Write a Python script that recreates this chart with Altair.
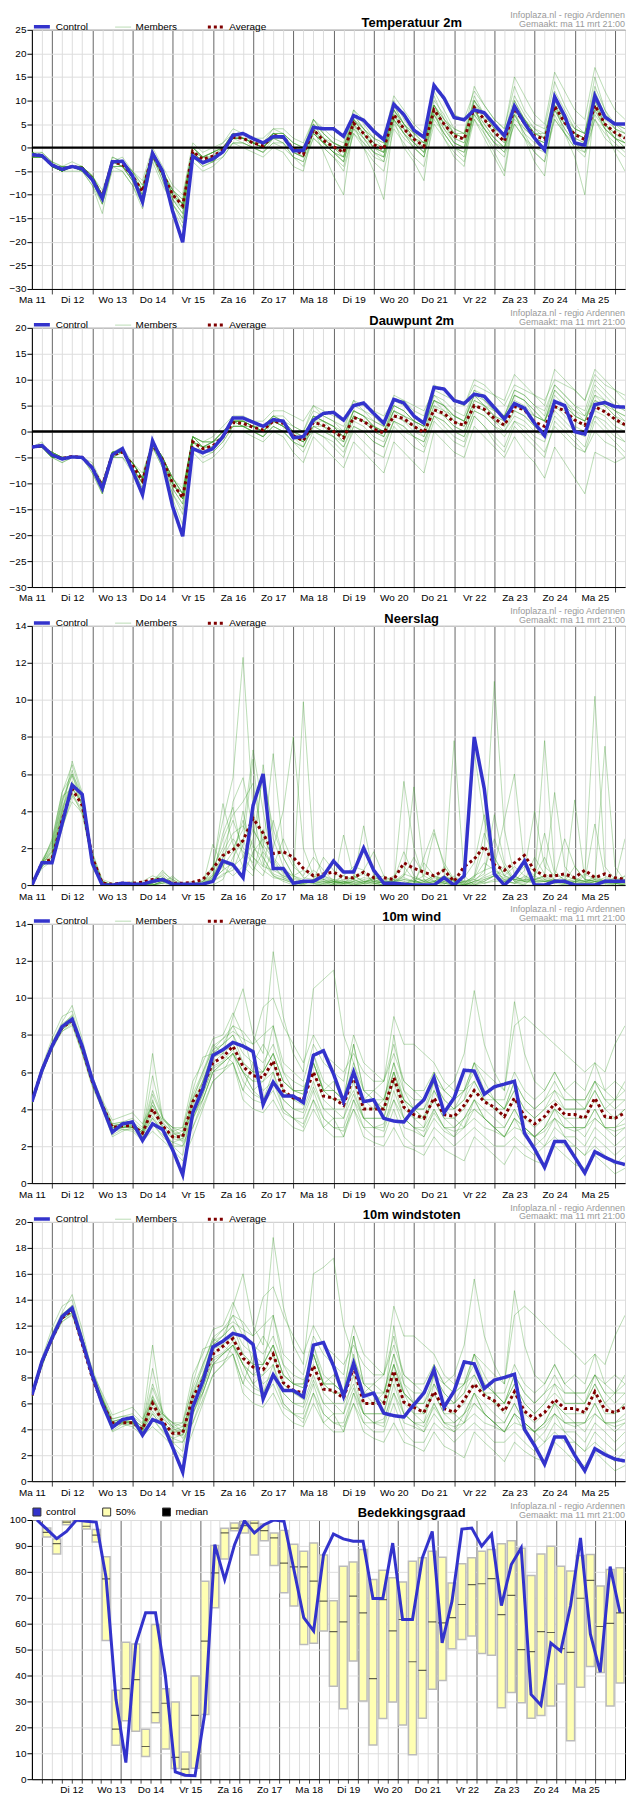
import json
import altair as alt
import pandas as pd

FONT = "Liberation Sans"
W, H = 595, 260
TITLE_X = 381

DAYS = ["Ma 11", "Di 12", "Wo 13", "Do 14", "Vr 15", "Za 16", "Zo 17", "Ma 18",
        "Di 19", "Wo 20", "Do 21", "Vr 22", "Za 23", "Zo 24", "Ma 25"]
HOURS = list(range(0, 355, 6))          # hours after Ma 11 12:00
HOURS_CLOUD = list(range(9, 364, 6))    # cloud panel starts Ma 11 21:00
INFO1 = "Infoplaza.nl - regio Ardennen"
INFO2 = "Gemaakt: ma 11 mrt 21:00"

# ---------------- Temperatuur 2m ----------------
T_CTRL = [-1.5,-1.7,-3.7,-4.6, -4.0,-4.5,-6.8,-10.8, -3.0,-2.9,-6.0,-11.5, -1.2,-5.0,-13.5,-20.1,
          -1.8,-3.2,-2.4,-0.9, 2.6,3.0,1.9,1.0, 2.3,2.3,-0.7,-0.6, 4.3,4.0,4.0,2.4,
          6.8,5.8,3.5,1.7, 9.2,7.0,3.7,2.2, 13.2,10.5,6.4,5.9, 8.0,7.4,4.9,2.5,
          8.8,5.2,2.0,-0.5, 10.8,6.7,1.0,0.5, 11.0,6.5,5.0,5.0]
T_AVG = [-1.5,-1.7,-3.7,-4.6, -4.0,-4.4,-6.7,-10.5, -3.1,-3.5,-6.0,-9.3, -1.3,-5.5,-10.0,-12.3,
         -0.8,-2.5,-1.8,-0.5, 2.2,2.0,1.0,0.4, 2.6,2.2,-0.3,-1.5, 3.8,1.5,0.2,-1.0,
         5.2,3.0,0.6,-0.3, 7.0,4.0,1.8,0.3, 8.0,5.0,2.5,1.8, 8.5,6.0,3.3,1.3,
         8.3,5.2,2.5,1.8, 8.8,5.3,2.8,1.7, 9.0,5.0,3.2,2.0]
T_MEM = [
    [-1,-2,-4,-5, -4,-4,-7,-11, -3,-3,-6,-10, -1,-5,-11,-14, -1,-3,-2,0, 3,3,1,0, 3,2,-1,-2, 5,2,0,-2, 7,4,1,-1, 9,5,2,0, 10,7,3,2, 11,7,4,2, 10,6,3,2, 11,6,3,2, 11,6,4,3],
    [-2,-2,-4,-4, -4,-5,-6,-10, -2,-3,-5,-8, -1,-6,-9,-11, 0,-2,-1,1, 4,3,2,1, 4,3,0,-1, 6,3,1,0, 8,5,2,1, 10,6,3,1, 12,8,4,3, 13,9,6,4, 13,8,5,4, 14,9,5,3, 15,8,5,4],
    [-1,-1,-3,-5, -4,-4,-7,-12, -4,-4,-7,-12, -2,-7,-13,-17, -3,-5,-4,-2, 1,1,0,-1, 1,1,-2,-4, 2,0,-2,-4, 3,1,-2,-3, 5,2,0,-2, 6,3,0,-1, 6,3,0,-2, 5,2,-1,-3, 6,3,0,-1, 6,2,0,-2],
    [-2,-2,-4,-5, -4,-4,-6,-9, -3,-2,-5,-7, 0,-4,-8,-10, 1,-1,0,1, 3,3,2,2, 4,4,2,1, 6,4,2,1, 8,6,3,2, 11,8,5,3, 13,10,7,6, 12,9,6,4, 15,11,7,5, 16,12,8,6, 17,12,8,6],
    [-1,-2,-4,-5, -4,-5,-7,-11, -3,-4,-7,-10, -2,-6,-10,-13, -1,-3,-3,-1, 2,1,0,-1, 2,1,-2,-3, 2,0,-2,-5, 3,0,-3,-5, 4,1,-2,-4, 5,2,-1,-3, 6,2,-2,-6, 7,3,-1,-3, 7,3,0,-2, 6,3,1,-1],
    [-2,-1,-3,-4, -3,-4,-6,-10, -3,-3,-6,-9, -1,-5,-9,-12, 0,-2,-1,0, 3,2,1,1, 3,2,0,-1, 4,2,1,0, 7,4,2,1, 8,5,3,2, 9,6,4,3, 10,7,5,3, 9,6,4,3, 10,6,4,3, 11,7,5,4],
    [-1,-2,-4,-5, -5,-5,-8,-12, -5,-5,-8,-12, -3,-8,-12,-15, -2,-4,-3,-1, 1,1,0,-1, 1,0,-2,-3, 3,1,-1,-3, 4,2,-1,-2, 6,3,0,-2, 7,3,0,-2, 8,4,1,-1, 7,3,1,0, 8,4,1,0, 10,5,2,0],
    [-2,-2,-4,-5, -4,-4,-7,-10, -3,-4,-6,-9, -1,-5,-10,-12, 0,-2,-1,0, 2,2,1,0, 3,3,1,0, 3,1,0,-2, 6,3,1,0, 7,4,2,0, 9,5,2,1, 8,5,2,0, 6,4,2,1, 9,5,2,1, 10,5,2,1],
    [-1,-2,-4,-4, -4,-4,-6,-10, -2,-3,-5,-8, -1,-5,-9,-11, -1,-2,-2,-1, 2,2,1,0, 2,2,0,-2, 4,1,-1,-2, 5,2,0,-1, 8,4,1,0, 9,5,2,1, 9,6,3,1, 10,6,3,2, 8,5,3,2, 8,4,2,1],
    [-2,-2,-4,-5, -4,-4,-7,-11, -4,-4,-7,-10, -2,-6,-11,-13, -1,-3,-2,-1, 2,2,1,0, 3,2,-1,-2, 4,1,-1,-3, 5,3,0,-1, 7,3,1,-1, 8,4,1,0, 7,4,2,0, 8,5,2,1, 9,6,3,2, 9,5,3,2],
    [-1,-2,-3,-4, -4,-4,-6,-10, -3,-3,-6,-9, -1,-5,-10,-12, 0,-2,-1,0, 2,2,1,1, 3,3,1,0, 5,2,0,-1, 6,4,1,0, 8,5,3,1, 9,6,3,3, 9,7,4,3, 9,6,3,3, 11,7,4,3, 12,7,4,3],
    [-2,-2,-4,-5, -4,-5,-7,-11, -3,-4,-6,-9, -1,-5,-10,-12, -1,-3,-2,-1, 2,2,1,0, 2,2,-1,-2, 3,1,-1,-2, 4,1,-1,-2, 6,3,1,-1, 7,3,0,-1, 7,4,1,-1, 5,2,0,-1, 6,3,1,0, 7,4,2,1],
    [-2,-2,-4,-5, -4,-5,-8,-14, -4,-5,-8,-13, -2,-7,-12,-16, -2,-4,-3,-2, 1,0,-1,-2, 0,-1,-4,-5, 4,-1,-6,-10, 5,0,-5,-11, 6,0,-3,-7, 8,2,-2,-4, 9,3,-1,-5, 8,2,-3,-6, 9,3,-2,-10, 9,4,-1,-5],
    [-2,-2,-4,-5, -4,-4,-7,-11, -3,-3,-6,-9, -1,-5,-10,-13, -1,-2,-2,0, 3,2,1,0, 2,2,0,-1, 5,3,1,0, 6,3,0,-1, 8,5,2,1, 11,6,3,2, 10,6,3,1, 9,6,3,2, 12,8,4,3, 13,8,4,2],
    [-1,-2,-4,-5, -4,-5,-7,-12, -4,-4,-7,-11, -2,-6,-12,-15, -2,-3,-3,-1, 2,2,1,0, 3,2,0,-1, 3,1,-1,-3, 5,2,-1,-3, 6,3,0,-2, 7,4,1,0, 8,5,2,0, 9,5,2,1, 8,4,1,-1, 8,4,2,0],
    [-2,-2,-4,-5, -4,-4,-6,-10, -3,-3,-5,-9, -1,-5,-9,-12, 0,-2,-1,0, 3,3,2,1, 3,3,1,0, 6,3,1,0, 6,4,2,0, 9,5,2,1, 8,5,3,2, 10,7,4,3, 11,7,4,2, 10,6,3,2, 11,7,5,3],
    [-1,-2,-4,-4, -4,-4,-7,-11, -3,-4,-6,-10, -1,-6,-11,-14, -1,-3,-2,-1, 2,2,0,0, 2,1,-1,-2, 4,2,0,-1, 6,3,0,-2, 7,4,1,-1, 9,5,1,0, 8,4,1,0, 7,4,2,0, 9,5,2,1, 9,5,3,1],
]

# ---------------- Dauwpunt 2m ----------------
D_CTRL = [-3.0,-2.7,-4.5,-5.3, -4.9,-5.0,-7.0,-11.0, -4.5,-3.3,-7.5,-12.2, -1.8,-6.0,-14.5,-20.2,
          -3.3,-4.1,-3.3,-1.0, 2.6,2.6,1.8,1.0, 2.3,2.0,-1.2,-1.0, 2.2,3.5,3.7,2.2,
          5.0,5.5,3.5,1.6, 6.2,5.5,3.0,1.6, 8.5,8.2,6.0,5.4, 7.2,6.8,4.6,2.4,
          5.4,4.5,1.6,-0.8, 5.8,5.0,0.0,-0.5, 5.2,5.6,4.8,4.7]
D_AVG = [-3.0,-2.7,-4.5,-5.2, -4.8,-5.0,-7.0,-10.5, -4.5,-4.0,-6.5,-9.5, -2.5,-5.5,-10.0,-12.8,
         -2.0,-3.3,-2.8,-1.0, 1.7,1.6,0.8,0.3, 2.0,1.6,-0.8,-1.8, 1.8,1.2,0.0,-1.2,
         2.7,2.0,0.5,-0.3, 3.0,2.5,1.0,-0.2, 4.2,3.5,1.8,1.2, 5.0,4.3,2.5,1.2,
         4.8,4.2,1.8,1.0, 4.8,4.0,2.2,1.2, 4.8,3.8,2.4,1.3]
D_MEM = [
    [-3,-3,-5,-5, -5,-5,-7,-11, -4,-4,-7,-10, -2,-6,-11,-14, -1,-3,-2,0, 2,2,1,0, 3,2,-1,-2, 2,2,1,-1, 4,3,1,0, 5,4,2,1, 7,5,3,2, 8,7,5,3, 7,6,4,2, 8,6,4,2, 7,6,4,3],
    [-3,-3,-4,-5, -5,-5,-6,-10, -4,-3,-6,-9, -2,-5,-9,-12, -1,-2,-2,0, 2,2,1,1, 3,3,1,0, 5,3,2,0, 6,4,3,1, 7,6,4,3, 9,8,6,5, 10,9,7,6, 11,9,7,5, 12,10,8,6, 12,10,8,6],
    [-3,-3,-5,-6, -5,-5,-8,-12, -5,-5,-8,-12, -3,-7,-13,-18, -4,-6,-5,-3, 0,0,-1,-2, 0,-1,-4,-6, -1,-3,-5,-7, -2,-4,-6,-8, -2,-4,-6,-8, 0,-2,-4,-5, 1,-1,-3,-5, -1,-4,-6,-9, -3,-6,-9,-12, -4,-5,-6,-5],
    [-3,-3,-4,-5, -5,-5,-7,-10, -4,-4,-6,-8, -2,-5,-9,-11, -1,-2,-1,1, 3,3,2,2, 4,4,3,2, 5,4,3,2, 6,5,4,3, 6,6,5,4, 8,7,6,5, 9,8,7,5, 9,8,7,6, 10,9,8,6, 11,9,8,7],
    [-3,-3,-5,-5, -5,-5,-7,-12, -5,-5,-7,-11, -3,-6,-12,-15, -3,-4,-4,-2, 1,1,0,-1, 1,0,-2,-4, 0,-1,-2,-4, 0,-2,-4,-5, 1,-1,-3,-4, 2,0,-2,-3, 3,1,-1,-3, 2,0,-2,-4, 1,-1,-3,-4, 0,-2,-3,-5],
    [-3,-2,-5,-5, -5,-5,-7,-11, -4,-4,-6,-9, -2,-5,-10,-13, -2,-3,-3,-1, 2,1,1,0, 2,1,-1,-3, 2,1,0,-2, 3,2,1,0, 4,3,2,0, 5,4,2,1, 6,5,3,2, 6,5,3,2, 7,5,3,2, 7,5,3,1],
    [-3,-3,-5,-6, -5,-5,-8,-12, -5,-4,-7,-11, -3,-7,-12,-16, -3,-5,-4,-2, 1,1,0,-1, 1,0,-2,-3, 1,0,-1,-3, 1,0,-2,-3, 2,1,-1,-2, 3,2,0,-1, 4,3,1,0, 3,2,0,-1, 4,2,0,-1, 3,2,0,-2],
    [-3,-3,-4,-5, -5,-5,-7,-10, -4,-4,-6,-9, -2,-5,-9,-12, -1,-3,-2,-1, 2,2,1,0, 2,2,0,-1, 3,2,1,-1, 4,3,1,0, 4,3,2,1, 6,4,3,2, 7,5,4,3, 5,4,3,2, 6,5,4,3, 6,5,4,3],
    [-3,-3,-5,-5, -5,-5,-7,-11, -4,-4,-7,-10, -2,-6,-10,-13, -2,-3,-3,-1, 2,2,1,0, 2,1,-1,-2, 1,1,-1,-2, 3,2,0,-1, 3,2,1,-1, 4,3,1,0, 5,4,2,1, 4,3,1,0, 5,4,2,1, 5,4,2,1],
    [-3,-3,-4,-5, -5,-5,-7,-11, -5,-4,-7,-10, -3,-6,-10,-13, -2,-4,-3,-1, 1,1,0,0, 2,2,0,-2, 3,2,1,-1, 3,2,1,-1, 4,3,1,0, 6,5,2,1, 6,5,3,1, 7,6,3,2, 8,6,3,2, 8,6,4,2],
    [-3,-3,-5,-5, -5,-5,-7,-10, -4,-4,-6,-9, -2,-5,-9,-12, -1,-2,-2,0, 2,2,1,1, 3,2,0,-1, 3,2,1,0, 4,3,2,1, 5,4,2,1, 6,5,3,2, 7,5,3,2, 7,6,4,2, 6,5,3,2, 6,5,3,2],
    [-3,-3,-4,-5, -5,-5,-7,-11, -4,-4,-6,-9, -2,-5,-10,-12, -1,-3,-2,-1, 2,1,1,0, 2,1,-1,-2, 0,-1,-3,-5, 1,0,-2,-3, 2,0,-1,-3, 3,1,-1,-2, 3,1,-2,-4, 1,-1,-3,-5, 2,0,-2,-4, 2,0,-2,-4],
    [-3,-3,-5,-5, -5,-5,-7,-11, -4,-4,-6,-9, -2,-5,-10,-13, -2,-3,-2,0, 2,2,1,0, 2,1,0,-1, 3,2,0,-1, 4,3,1,0, 5,4,2,1, 6,5,3,2, 7,6,4,3, 8,7,5,3, 9,7,5,3, 9,7,5,4],
    [-3,-3,-5,-5, -5,-5,-7,-11, -5,-4,-7,-10, -2,-6,-11,-14, -2,-4,-3,-1, 1,1,0,-1, 1,0,-2,-3, 1,0,-1,-3, 2,1,-1,-2, 2,1,-1,-2, 3,2,0,-1, 4,3,1,-1, 2,1,-1,-2, 3,1,-1,-3, 3,1,-1,-2],
    [-3,-3,-4,-5, -5,-5,-7,-10, -4,-4,-6,-9, -2,-5,-9,-12, -1,-2,-2,0, 2,2,2,1, 3,2,1,0, 4,3,2,1, 5,4,2,1, 6,5,3,2, 7,6,4,3, 8,6,4,3, 8,7,5,4, 9,7,5,4, 10,8,6,4],
    [-3,-3,-5,-5, -5,-5,-7,-11, -4,-4,-7,-10, -2,-6,-10,-13, -2,-3,-3,-1, 2,1,0,-1, 2,1,-1,-2, 2,1,0,-2, 3,2,0,-1, 4,2,0,-1, 5,3,1,0, 5,4,2,0, 4,3,1,-1, 5,3,1,0, 4,3,1,0],
]

# ---------------- Neerslag ----------------
P_CTRL = [0,1.2,1.2,3.3, 5.4,4.9,1.2,0, 0,0.1,0.05,0.05, 0.2,0.3,0.05,0.05,
          0.05,0.05,0.2,1.3, 1.1,0.4,4.3,6.0, 0.9,0.9,0.1,0.2, 0.2,0.5,1.3,0.7,
          0.7,2.0,0.8,0.1, 0.1,0.05,0,0, 0,0.4,0,0.5, 8.0,5.2,0.6,0,
          0.5,1.3,0,0, 0.2,0.2,0,0, 0,0.2,0.2,0.2]
P_AVG = [0,1.2,1.4,3.5, 5.2,4.3,1.5,0.1, 0.05,0.1,0.1,0.15, 0.3,0.3,0.1,0.1,
         0.15,0.3,0.9,1.6, 1.9,2.4,3.6,2.8, 1.7,1.8,1.5,0.9, 0.5,0.6,0.7,0.4,
         0.4,0.7,0.4,0.4, 0.3,1.2,0.9,0.7, 0.5,0.8,0.2,1.0, 1.4,2.1,1.1,0.8,
         1.2,1.6,0.8,0.5, 0.5,0.6,0.4,0.8, 0.4,0.6,0.4,0.3]
P_MEM = [
    [0,1.2,2.0,4.5, 6.2,4.5,1.2,0.1, 0,0,0.1,0, 0,0.2,0,0, 0,0.3,1.0,3.5, 5.8,12.3,4.0,1.2, 0.5,0.2,0,0.1, 0.3,1.5,0.8,0.2, 0,0.1,0.5,0.2, 0,0,0.1,1.2, 0.5,0.1,0,0, 0.2,0.8,2.5,1.0, 0.2,0.1,0.3,0.5, 0.2,0.1,0,0, 0,0,0.1,0],
    [0,1.0,1.5,3.8, 6.7,5.0,1.5,0.2, 0,0.1,0,0.2, 0.5,0.3,0,0.1, 0.2,0,0.5,1.5, 2.0,3.0,7.3,4.0, 1.0,0.5,0.3,9.9, 2.0,0.3,0.1,0.5, 1.0,0.8,0.1,0, 0,5.6,2.0,0.3, 0,0.2,0,0, 0.4,2.0,11.0,3.0, 0.5,0.2,1.5,0.6, 0.3,0.2,0.1,0.5, 10.2,1.0,0.3,0.2],
    [0,1.3,1.8,4.0, 5.5,4.8,1.0,0, 0,0,0,0.1, 0.2,0.8,0.2,0, 0,0,2.2,1.0, 0.5,1.0,2.5,6.0, 3.0,1.5,0.5,0.2, 0.1,0,0.2,0.5, 0.3,0.1,0,0.2, 0.5,1.0,0.3,0, 0,0.2,7.8,0.5, 0,0.1,0.3,0.2, 0.1,0,0,0, 0.2,0,0,0.1, 0,0.3,0.1,0],
    [0,0.9,1.3,3.0, 4.8,4.0,1.8,0.3, 0.1,0,0,0, 0.1,0.6,0.1,0, 0,0.1,0.3,0.8, 4.5,5.8,3.0,2.0, 7.1,2.0,1.0,0.5, 1.5,0.8,0.2,0.1, 0.5,0.2,0.1,0, 0.2,0.5,1.5,0.5, 0.2,0.1,0,0.2, 7.2,3.5,1.0,0.2, 0.5,1.0,0.8,0.3, 0.1,0,0.2,0.1, 0.5,0.2,0,0],
    [0,1.1,2.5,5.0, 6.0,4.2,1.0,0.1, 0,0,0.2,0, 0,0.1,0.5,0, 0,0,0,0.3, 1.5,2.5,1.0,0.5, 2.0,4.0,8.0,2.0, 0.5,0.2,0.1,0.2, 0.1,0.3,0.2,0.1, 0,0.1,0,1.5, 3.0,1.0,0.2,0.1, 0.5,0.8,1.0,3.5, 6.0,1.0,0.5,2.8, 0.6,0.3,0.1,0, 0.2,0.1,0,0.5],
    [0,1.2,1.6,3.5, 5.0,3.8,1.3,0.2, 0,0.1,0,0, 0.3,0.5,0,0, 0,0.2,0.8,4.4, 2.2,1.0,0.5,3.0, 1.2,0.7,0.3,0.2, 0.2,0.1,0,2.7, 0.5,0.2,0.2,0.3, 0.1,0,0.4,0.2, 0.1,1.0,0.2,0, 0.1,0.2,0.5,1.0, 0.2,0.8,4.0,1.0, 0.5,2.5,1.0,0.3, 0.2,0.1,0.1,0],
    [0,1.3,2.2,4.8, 5.2,4.4,1.1,0, 0,0.1,0.1,0, 0.1,0.3,0,0, 0.1,0,1.0,2.0, 3.5,2.0,1.5,1.0, 0.8,0.5,0.2,0, 0.3,0.5,0.2,0, 0.2,3.2,0.5,0.1, 0,0,0.1,0.2, 0.5,0.3,0.1,0, 0,0.2,0.5,0.3, 0.1,0.5,0.2,7.8, 0.8,0.2,0.1,0.1, 0.3,7.5,1.0,0.2],
    [0,1.0,1.4,3.2, 4.5,3.9,1.5,0.2, 0,0,0,0, 0,0.2,0.1,0, 0,0.1,0.5,1.2, 1.0,0.5,1.8,2.5, 1.5,0.8,0.5,0.3, 0.8,0.4,0.2,0.1, 0,0.1,0.3,0.5, 0.2,0.3,0.2,0.1, 0.2,0.5,0.3,0, 0.2,0.4,0.6,0.4, 0.3,0.2,0.1,0.2, 0.3,0.1,0.2,0.2, 0.4,0.2,0.1,0.1],
    [0,1.1,1.9,4.2, 5.6,4.6,1.4,0.1, 0,0.1,0,0, 0.2,0.4,0,0, 0,0,0.2,0.6, 0.8,2.2,6.8,1.5, 0.5,0.3,0.1,0.1, 0.1,0,0,0.2, 0.3,0.8,1.8,0.5, 0.1,0,0.3,0, 0.1,0,0.5,0.1, 0,0.3,0.5,0.8, 0.2,0,0.5,1.5, 0.2,0.1,0.3,0.2, 0.1,0.2,0.1,0.1],
    [0,1.2,1.7,3.9, 5.3,4.3,1.2,0.1, 0,0,0.1,0.1, 0,0.1,0,0, 0,0.1,0.4,1.0, 1.8,3.5,2.0,1.5, 0.6,0.4,0.2,0.1, 0.2,0.3,0.1,0, 0,0.2,0.1,0, 0.1,0.5,5.3,0.8, 0.2,0.1,0,0, 0.2,0.3,0.5,0.2, 0.1,0.3,0.3,0.5, 5.0,1.0,0.3,0.2, 3.3,0.5,0.2,0.1],
    [0,1.3,2.3,4.6, 5.9,4.7,1.1,0, 0,0,0,0, 0,0.1,0.3,0, 0,0.1,0.2,0.5, 1.0,1.5,3.0,2.0, 1.0,0.4,0.1,0.2, 0.1,0.2,0,0.1, 0.2,0.4,0.3,0.1, 0.3,0.2,0.1,0.3, 0.2,0.5,0.2,0.1, 0.3,0.1,0.2,0.2, 0.5,0.2,0.3,0.4, 0.2,0.1,4.6,0.3, 0.2,0.1,0.2,0.3],
    [0,1.1,1.5,3.6, 4.9,4.1,1.6,0.2, 0,0,0,0, 0,0.2,0,0, 0,0,0.3,0.8, 1.2,4.0,1.5,0.8, 0.4,0.3,0.1,0, 0,0.1,0.2,0.1, 0.1,0,0.2,0.1, 0.3,1.8,0.5,0.2, 0.1,0.1,0.3,0.2, 0.1,0.5,0.8,0.5, 0.3,0.2,0.5,0.2, 0.2,0.5,0.3,0.2, 0.1,0.3,0.2,2.5],
    [0,1.1,1.8,4.1, 5.5,4.4,1.4,0.1, 0,0,0.1,0.1, 0.1,0.4,0.1,0, 0,0.2,0.6,2.5, 3.8,4.5,5.5,2.2, 1.4,0.6,0.2,0.1, 0.2,0.2,0.1,0.3, 0.4,0.6,0.2,0.1, 0.1,0.3,0.2,0.1, 0.4,0.2,0.1,0.4, 1.2,3.8,1.5,0.5, 0.3,0.4,0.2,0.2, 0.1,0.2,0.4,0.2, 0.3,0.2,0.2,0.2],
    [0,1.2,2.1,4.4, 6.0,4.9,1.3,0.1, 0,0.1,0,0, 0.2,0.7,0.3,0, 0,0.1,0.3,1.5, 2.5,1.8,1.2,6.5, 2.5,1.0,0.4,0.2, 0.2,0.1,0.3,0.1, 0.2,0.1,0.4,0.2, 0.2,0.1,0.2,0.5, 2.8,1.2,0.3,0.2, 0.4,1.2,0.8,0.3, 0.4,0.3,0.2,0.3, 0.2,0.1,0.2,0.1, 0.2,0.2,0.3,0.2],
    [0,1.0,1.6,3.7, 5.2,4.5,1.7,0.2, 0,0,0,0.1, 0.1,0.3,0,0, 0,0,0.4,1.8, 2.8,3.2,2.2,1.0, 3.5,1.5,0.5,0.8, 0.5,0.3,0.2,0.1, 0.3,0.1,0.1,0.2, 0.2,0.4,0.2,0.1, 0.2,0.4,0.3,0.2, 0.3,0.6,3.8,1.2, 0.3,0.2,0.2,0.2, 0.3,0.2,1.0,0.3, 0.2,0.4,0.2,0.5],
    [0,1.3,2.4,5.0, 6.5,4.8,1.2,0.1, 0,0.1,0.1,0, 0,0.2,0.4,0.1, 0,0.2,0.5,2.8, 4.2,1.5,0.8,1.8, 1.0,2.5,1.2,0.4, 0.3,0.5,0.3,0.2, 0.1,0.2,0.3,0.1, 0.2,0.6,0.4,0.2, 0.5,0.3,0.2,0.1, 0.5,2.8,1.5,0.5, 1.0,0.5,0.3,0.2, 0.2,0.3,0.2,0.6, 0.3,0.2,0.4,0.3],
]

# ---------------- 10m wind ----------------
W_CTRL = [4.4,6.1,7.4,8.45, 8.85,7.4,5.6,4.15, 2.75,3.2,3.3,2.3, 3.2,2.9,1.8,0.45,
          3.8,5.1,6.9,7.2, 7.6,7.4,7.1,4.25, 5.45,4.7,4.7,4.35, 6.9,7.15,5.9,4.4,
          6.0,4.4,4.5,3.5, 3.35,3.3,4.0,4.5, 5.7,3.8,4.6,6.1, 6.05,4.8,5.2,5.35,
          5.5,2.7,1.85,0.85, 2.25,2.25,1.4,0.55, 1.7,1.4,1.15,1.0]
W_AVG = [4.4,6.1,7.4,8.4, 8.8,7.3,5.5,4.2, 3.0,3.1,3.1,2.7, 4.0,3.1,2.5,2.5,
         4.4,5.2,6.5,6.8, 7.4,6.3,5.8,5.7, 6.6,5.0,4.6,4.5, 6.0,4.7,4.6,4.2,
         5.8,4.0,4.0,4.0, 5.7,4.1,3.7,3.5, 4.6,3.7,3.6,4.2, 5.0,4.4,4.1,3.6,
         4.6,3.6,3.2,3.6, 4.3,3.7,3.7,3.5, 4.6,3.6,3.5,3.8]
W_MEM = [
    [4.4,6.3,7.8,9.0, 9.3,7.5,5.5,4.0, 2.5,2.8,3.0,2.5, 4.5,3.0,2.0,1.5, 4.5,6.0,7.5,7.0, 9.0,10.5,8.0,7.0, 12.5,9.0,7.0,6.0, 10.5,11.0,11.5,8.0, 6.5,5.0,4.5,4.0, 6.0,4.5,3.5,3.0, 5.0,4.0,3.5,3.0, 4.0,3.5,3.0,2.5, 3.5,3.0,2.5,2.0, 3.0,2.5,2.0,1.5, 2.0,1.5,1.0,1.5],
    [4.3,6.0,7.2,8.2, 8.6,7.0,5.2,4.0, 2.8,3.0,3.2,2.8, 5.8,3.5,2.8,3.0, 5.5,6.5,7.8,8.0, 9.2,8.0,6.0,5.0, 5.5,4.5,4.0,3.8, 5.2,4.0,3.5,3.5, 4.8,3.5,3.0,3.2, 4.5,3.5,3.0,2.8, 3.8,3.0,2.8,3.0, 3.5,3.0,2.8,2.5, 3.0,2.8,2.5,2.8, 3.5,3.0,2.8,3.0, 3.5,3.0,2.8,3.0],
    [4.5,6.2,7.5,8.6, 9.0,7.4,5.8,4.4, 3.2,3.3,3.5,3.0, 7.0,3.5,3.0,2.8, 5.0,6.8,7.0,7.5, 8.0,7.0,6.5,6.0, 8.5,6.0,5.0,4.8, 7.0,5.5,5.0,4.5, 7.5,5.0,4.5,4.0, 8.0,5.0,4.0,3.5, 5.5,4.5,4.0,4.5, 6.5,5.5,4.5,4.0, 5.5,4.5,4.0,4.5, 5.0,4.5,4.5,4.0, 5.5,4.5,4.0,4.5],
    [4.4,5.9,7.3,8.3, 8.7,7.1,5.4,4.3, 3.0,3.1,3.0,2.6, 3.5,2.8,2.5,2.6, 3.8,4.5,6.0,6.5, 7.0,6.0,5.5,6.0, 7.0,5.5,5.0,4.8, 6.5,5.0,5.0,4.5, 6.0,4.5,5.0,5.5, 7.5,5.5,5.0,5.0, 6.0,5.0,5.5,7.0, 10.4,7.5,6.0,5.0, 9.8,7.0,5.5,5.0, 6.0,5.0,4.5,4.5, 5.5,5.0,4.5,5.5],
    [4.4,6.1,7.4,8.5, 9.1,7.3,5.6,4.1, 2.6,2.9,2.8,2.3, 2.8,2.3,1.8,1.2, 2.5,4.0,5.5,6.0, 6.5,5.0,4.5,4.3, 5.0,3.8,3.5,3.2, 4.5,3.5,3.0,2.8, 4.0,2.5,2.2,2.0, 3.0,2.0,1.8,1.5, 2.5,1.8,1.5,1.2, 2.5,2.0,1.5,1.0, 2.0,1.5,1.2,1.0, 2.0,1.5,1.0,0.8, 1.5,1.0,0.5,0.8],
    [4.5,6.2,7.6,8.7, 9.6,7.8,5.6,4.5, 3.4,3.6,3.8,3.2, 4.2,3.4,3.0,3.0, 4.8,6.0,7.2,7.5, 8.5,8.2,7.5,9.5, 10.0,8.5,7.5,6.5, 8.0,7.0,6.5,6.0, 7.0,6.0,5.5,5.5, 9.0,7.5,7.5,7.0, 6.5,5.5,5.0,5.0, 6.5,6.0,5.5,5.0, 8.5,9.0,8.5,8.0, 7.5,7.0,6.5,6.0, 6.5,6.0,7.5,8.5],
    [4.3,6.0,7.3,8.2, 8.5,7.0,5.3,4.0, 2.8,2.9,2.9,2.4, 3.2,2.5,2.0,2.0, 3.0,4.2,5.5,6.0, 7.0,5.5,4.8,4.5, 6.0,4.0,3.5,3.0, 4.5,3.0,2.5,2.5, 4.5,3.5,3.0,3.0, 5.0,3.5,3.0,2.5, 4.0,3.0,2.5,3.0, 4.5,3.5,3.0,2.5, 3.5,2.5,2.0,2.5, 3.5,2.5,2.5,2.0, 3.0,2.5,2.0,2.5],
    [4.4,6.1,7.5,8.4, 8.9,7.2,5.5,4.2, 3.1,3.2,3.0,2.7, 4.8,3.5,3.0,2.5, 4.5,5.5,7.0,7.5, 8.0,6.5,6.0,6.0, 7.0,5.5,5.0,5.0, 6.5,5.0,5.5,4.5, 6.5,4.5,4.0,4.5, 6.5,4.5,4.0,4.0, 5.5,4.5,4.0,5.0, 6.0,5.0,4.5,4.0, 5.0,4.0,3.5,4.0, 5.0,4.0,4.0,4.0, 5.0,4.0,4.5,4.5],
    [4.4,6.0,7.3,8.4, 8.8,7.3,5.5,4.2, 2.9,3.0,3.1,2.7, 3.8,3.0,2.6,2.8, 4.0,5.0,6.5,7.0, 6.5,4.5,4.0,3.8, 4.5,3.5,3.0,2.8, 4.0,3.0,3.5,2.5, 4.0,3.0,3.0,2.8, 4.5,3.0,2.8,2.5, 3.5,2.8,2.5,3.5, 4.5,3.5,3.0,2.5, 3.5,3.0,2.5,3.0, 4.0,3.5,3.0,3.0, 4.0,3.0,3.0,3.2],
    [4.5,6.2,7.5,8.5, 8.9,7.4,5.6,4.3, 3.1,3.2,3.2,2.8, 4.2,3.2,2.8,2.6, 4.2,5.5,6.8,7.0, 7.5,6.5,6.0,6.0, 7.0,5.5,5.0,5.0, 6.5,5.0,4.5,4.5, 6.0,4.5,4.5,4.5, 6.0,4.5,4.0,4.0, 5.0,4.0,4.0,4.5, 5.5,4.5,4.5,4.0, 5.0,4.0,3.5,4.0, 4.5,4.0,4.0,4.0, 5.0,4.0,3.5,4.0],
    [4.4,6.1,7.4,8.3, 8.7,7.2,5.5,4.2, 3.0,3.1,3.1,2.7, 4.0,3.1,2.5,2.4, 3.5,4.5,6.0,6.5, 7.0,6.0,5.0,5.5, 6.0,4.5,4.0,4.0, 5.5,4.0,4.0,3.5, 5.5,3.5,3.5,3.5, 5.5,3.5,3.0,3.0, 4.0,3.0,3.0,3.5, 4.5,4.0,3.5,3.0, 4.0,3.0,2.5,3.0, 4.0,3.0,3.0,3.0, 4.0,3.0,3.0,3.5],
    [4.4,6.0,7.4,8.4, 8.8,7.2,5.4,4.1, 2.9,3.0,3.0,2.6, 3.5,2.8,2.2,2.0, 3.5,4.8,6.2,6.5, 7.0,6.0,5.5,5.5, 6.5,5.0,4.5,4.5, 6.5,5.0,5.0,4.5, 6.0,4.0,4.0,4.0, 6.0,4.0,3.5,3.5, 4.5,3.5,3.5,4.0, 5.0,4.5,4.0,3.5, 4.5,3.5,3.0,3.5, 4.0,3.5,3.5,3.5, 4.5,3.5,3.5,4.0],
    [4.4,6.1,7.4,8.4, 8.8,7.3,5.5,4.2, 3.0,3.0,3.0,2.5, 3.2,2.6,2.2,2.4, 4.0,5.5,7.2,7.8, 8.5,7.5,7.0,6.5, 7.5,6.0,5.5,5.2, 6.0,4.5,4.0,4.0, 5.0,3.5,3.5,3.5, 5.5,4.5,4.0,3.5, 4.5,3.5,3.0,3.5, 4.0,3.5,3.0,3.0, 4.0,3.0,2.5,3.0, 3.5,3.0,3.0,2.5, 3.5,3.0,2.5,3.0],
    [4.5,6.2,7.5,8.5, 9.0,7.4,5.6,4.3, 3.2,3.3,3.3,2.9, 5.0,3.6,2.8,2.2, 3.0,4.5,6.0,6.2, 6.5,5.0,6.5,7.5, 6.5,5.0,4.5,4.2, 7.0,5.0,4.5,4.5, 7.5,5.0,5.0,4.5, 6.5,5.0,4.5,4.5, 5.5,5.0,4.5,5.0, 6.5,5.0,4.5,4.5, 6.0,5.0,4.5,5.0, 6.0,5.0,5.5,5.0, 6.5,5.0,5.5,5.0],
    [4.3,5.9,7.3,8.3, 8.7,7.2,5.4,4.1, 2.9,3.0,3.1,2.7, 3.6,2.9,2.4,2.3, 3.4,4.8,6.3,6.6, 7.2,6.0,5.0,4.5, 5.5,4.0,3.5,3.5, 5.0,3.5,3.0,3.0, 4.5,3.0,2.5,2.5, 4.0,2.5,2.0,2.0, 3.0,2.5,2.0,2.5, 3.0,2.5,2.0,2.0, 2.5,2.0,1.5,2.0, 2.5,2.0,2.0,1.5, 2.5,2.0,1.5,2.0],
    [4.4,6.1,7.5,8.5, 8.9,7.3,5.6,4.2, 3.1,3.2,3.2,2.8, 4.4,3.3,2.7,2.5, 4.6,5.8,7.4,7.8, 8.2,7.8,7.5,8.0, 8.5,6.5,6.0,5.5, 7.5,6.5,6.0,5.5, 8.0,6.5,6.0,5.5, 7.0,5.5,5.0,4.5, 6.0,5.0,4.5,5.0, 5.5,4.5,4.0,4.0, 5.5,4.5,4.0,4.5, 5.5,4.5,4.5,4.5, 5.5,4.5,4.5,5.0],
]

# ---------------- 10m windstoten ----------------
G_CTRL = [6.65,9.25,11.05,12.7, 13.35,10.8,8.2,5.95, 4.15,4.75,4.9,3.55, 4.75,4.45,2.6,0.7,
          5.7,7.7,10.35,10.8, 11.4,11.2,10.55,6.35, 8.2,7.0,7.0,6.5, 10.5,10.7,8.9,6.55,
          9.1,6.55,6.8,5.25, 5.05,4.95,5.9,6.8, 8.6,5.7,6.95,9.2, 9.05,7.15,7.8,8.0,
          8.25,4.0,2.75,1.3, 3.4,3.4,2.0,0.8, 2.5,2.05,1.7,1.55]
G_AVG = [6.6,9.2,11.0,12.6, 13.2,10.6,8.0,6.0, 4.5,4.5,4.5,4.0, 6.0,4.6,3.7,3.7,
         6.5,7.8,9.8,10.4, 11.0,9.5,8.8,8.6, 9.8,7.6,7.0,6.8, 8.9,7.1,7.0,6.4,
         8.8,6.0,6.0,6.0, 8.5,6.1,5.7,5.3, 6.9,5.6,5.3,6.3, 7.5,6.6,6.2,5.4,
         6.9,5.4,4.8,5.3, 6.3,5.6,5.6,5.3, 6.9,5.5,5.3,5.7]
G_MEM = [
    [6.6,9.5,11.8,13.5, 14.0,11.2,8.2,6.0, 3.8,4.2,4.5,3.8, 6.5,4.5,3.0,2.3, 6.5,9.0,11.0,10.5, 13.5,16.0,12.0,10.5, 18.8,13.5,10.5,9.0, 16.0,16.5,17.2,12.0, 9.5,7.5,6.8,6.0, 9.0,6.8,5.2,4.5, 7.5,6.0,5.2,4.5, 6.0,5.2,4.5,3.8, 5.2,4.5,3.8,3.0, 4.5,3.8,3.0,2.3, 3.0,2.3,1.5,2.3],
    [6.5,9.0,10.8,12.3, 12.9,10.5,7.8,6.0, 4.2,4.5,4.8,4.2, 8.7,5.2,4.2,4.5, 8.2,9.8,11.7,12.0, 13.8,12.0,9.0,7.5, 8.2,6.8,6.0,5.7, 7.8,6.0,5.2,5.2, 7.2,5.2,4.5,4.8, 6.8,5.2,4.5,4.2, 5.7,4.5,4.2,4.5, 5.2,4.5,4.2,3.8, 4.5,4.2,3.8,4.2, 5.2,4.5,4.2,4.5, 5.2,4.5,4.2,4.5],
    [6.8,9.3,11.2,12.9, 13.5,11.1,8.7,6.6, 4.8,5.0,5.2,4.5, 10.5,5.2,4.5,4.2, 7.5,10.2,10.5,11.2, 12.0,10.5,9.8,9.0, 12.8,9.0,7.5,7.2, 10.5,8.2,7.5,6.8, 11.2,7.5,6.8,6.0, 12.0,7.5,6.0,5.2, 8.2,6.8,6.0,6.8, 9.8,8.2,6.8,6.0, 8.2,6.8,6.0,6.8, 7.5,6.8,6.8,6.0, 8.2,6.8,6.0,6.8],
    [6.6,8.8,11.0,12.5, 13.0,10.6,8.1,6.4, 4.5,4.6,4.5,3.9, 5.2,4.2,3.8,3.9, 5.7,6.8,9.0,9.8, 10.5,9.0,8.2,9.0, 10.5,8.2,7.5,7.2, 9.8,7.5,7.5,6.8, 9.0,6.8,7.5,8.2, 11.2,8.2,7.5,7.5, 9.0,7.5,8.2,10.5, 15.6,11.2,9.0,7.5, 14.7,10.5,8.2,7.5, 9.0,7.5,6.8,6.8, 8.2,7.5,6.8,8.2],
    [6.6,9.2,11.1,12.8, 13.6,11.0,8.4,6.2, 3.9,4.4,4.2,3.5, 4.2,3.5,2.7,1.8, 3.8,6.0,8.2,9.0, 9.8,7.5,6.8,6.5, 7.5,5.7,5.2,4.8, 6.8,5.2,4.5,4.2, 6.0,3.8,3.3,3.0, 4.5,3.0,2.7,2.3, 3.8,2.7,2.3,1.8, 3.8,3.0,2.3,1.5, 3.0,2.3,1.8,1.5, 3.0,2.3,1.5,1.2, 2.3,1.5,0.8,1.2],
    [6.8,9.3,11.4,13.0, 14.4,11.7,8.4,6.8, 5.1,5.4,5.7,4.8, 6.3,5.1,4.5,4.5, 7.2,9.0,10.8,11.2, 12.8,12.3,11.2,14.2, 15.0,12.8,11.2,9.8, 12.0,10.5,9.8,9.0, 10.5,9.0,8.2,8.2, 13.5,11.2,11.2,10.5, 9.8,8.2,7.5,7.5, 9.8,9.0,8.2,7.5, 12.8,13.5,12.8,12.0, 11.2,10.5,9.8,9.0, 9.8,9.0,11.2,12.8],
    [6.5,9.0,11.0,12.3, 12.8,10.5,8.0,6.0, 4.2,4.4,4.4,3.6, 4.8,3.8,3.0,3.0, 4.5,6.3,8.2,9.0, 10.5,8.2,7.2,6.8, 9.0,6.0,5.2,4.5, 6.8,4.5,3.8,3.8, 6.8,5.2,4.5,4.5, 7.5,5.2,4.5,3.8, 6.0,4.5,3.8,4.5, 6.8,5.2,4.5,3.8, 5.2,3.8,3.0,3.8, 5.2,3.8,3.8,3.0, 4.5,3.8,3.0,3.8],
    [6.6,9.2,11.2,12.6, 13.4,10.8,8.2,6.3, 4.6,4.8,4.5,4.0, 7.2,5.2,4.5,3.8, 6.8,8.2,10.5,11.2, 12.0,9.8,9.0,9.0, 10.5,8.2,7.5,7.5, 9.8,7.5,8.2,6.8, 9.8,6.8,6.0,6.8, 9.8,6.8,6.0,6.0, 8.2,6.8,6.0,7.5, 9.0,7.5,6.8,6.0, 7.5,6.0,5.2,6.0, 7.5,6.0,6.0,6.0, 7.5,6.0,6.8,6.8],
    [6.6,9.0,11.0,12.6, 13.2,11.0,8.2,6.3, 4.4,4.5,4.6,4.0, 5.7,4.5,3.9,4.2, 6.0,7.5,9.8,10.5, 9.8,6.8,6.0,5.7, 6.8,5.2,4.5,4.2, 6.0,4.5,5.2,3.8, 6.0,4.5,4.5,4.2, 6.8,4.5,4.2,3.8, 5.2,4.2,3.8,5.2, 6.8,5.2,4.5,3.8, 5.2,4.5,3.8,4.5, 6.0,5.2,4.5,4.5, 6.0,4.5,4.5,4.8],
    [6.8,9.3,11.2,12.8, 13.4,11.1,8.4,6.4, 4.6,4.8,4.8,4.2, 6.3,4.8,4.2,3.9, 6.3,8.2,10.2,10.5, 11.2,9.8,9.0,9.0, 10.5,8.2,7.5,7.5, 9.8,7.5,6.8,6.8, 9.0,6.8,6.8,6.8, 9.0,6.8,6.0,6.0, 7.5,6.0,6.0,6.8, 8.2,6.8,6.8,6.0, 7.5,6.0,5.2,6.0, 6.8,6.0,6.0,6.0, 7.5,6.0,5.2,6.0],
    [6.6,9.2,11.1,12.5, 13.0,10.8,8.2,6.3, 4.5,4.6,4.6,4.0, 6.0,4.6,3.8,3.6, 5.2,6.8,9.0,9.8, 10.5,9.0,7.5,8.2, 9.0,6.8,6.0,6.0, 8.2,6.0,6.0,5.2, 8.2,5.2,5.2,5.2, 8.2,5.2,4.5,4.5, 6.0,4.5,4.5,5.2, 6.8,6.0,5.2,4.5, 6.0,4.5,3.8,4.5, 6.0,4.5,4.5,4.5, 6.0,4.5,4.5,5.2],
    [6.6,9.0,11.1,12.6, 13.2,10.8,8.1,6.2, 4.4,4.5,4.5,3.9, 5.2,4.2,3.3,3.0, 5.2,7.2,9.3,9.8, 10.5,9.0,8.2,8.2, 9.8,7.5,6.8,6.8, 9.8,7.5,7.5,6.8, 9.0,6.0,6.0,6.0, 9.0,6.0,5.2,5.2, 6.8,5.2,5.2,6.0, 7.5,6.8,6.0,5.2, 6.8,5.2,4.5,5.2, 6.0,5.2,5.2,5.2, 6.8,5.2,5.2,6.0],
    [6.6,9.2,11.0,12.6, 13.2,10.8,8.2,6.2, 4.5,4.5,4.5,3.8, 4.8,3.9,3.3,3.6, 6.0,8.2,10.8,11.7, 12.8,11.2,10.5,9.8, 11.2,9.0,8.2,7.8, 9.0,6.8,6.0,6.0, 7.5,5.2,5.2,5.2, 8.2,6.8,6.0,5.2, 6.8,5.2,4.5,5.2, 6.0,5.2,4.5,4.5, 6.0,4.5,3.8,4.5, 5.2,4.5,4.5,3.8, 5.2,4.5,3.8,4.5],
    [6.8,9.3,11.2,12.8, 13.5,11.1,8.4,6.4, 4.8,5.0,5.0,4.4, 7.5,5.4,4.2,3.3, 4.5,6.8,9.0,9.3, 9.8,7.5,9.8,11.2, 9.8,7.5,6.8,6.3, 10.5,7.5,6.8,6.8, 11.2,7.5,7.5,6.8, 9.8,7.5,6.8,6.8, 8.2,7.5,6.8,7.5, 9.8,7.5,6.8,6.8, 9.0,7.5,6.8,7.5, 9.0,7.5,8.2,7.5, 9.8,7.5,8.2,7.5],
    [6.5,8.9,11.0,12.5, 13.0,10.8,8.1,6.2, 4.4,4.5,4.6,4.0, 5.4,4.4,3.6,3.5, 5.1,7.2,9.5,9.9, 10.8,9.0,7.5,6.8, 8.2,6.0,5.2,5.2, 7.5,5.2,4.5,4.5, 6.8,4.5,3.8,3.8, 6.0,3.8,3.0,3.0, 4.5,3.8,3.0,3.8, 4.5,3.8,3.0,3.0, 3.8,3.0,2.3,3.0, 3.8,3.0,3.0,2.3, 3.8,3.0,2.3,3.0],
    [6.6,9.2,11.2,12.8, 13.4,10.9,8.4,6.3, 4.6,4.8,4.8,4.2, 6.6,5.0,4.0,3.8, 6.9,8.7,11.1,11.7, 12.3,11.7,11.2,12.0, 12.8,9.8,9.0,8.2, 11.2,9.8,9.0,8.2, 12.0,9.8,9.0,8.2, 10.5,8.2,7.5,6.8, 9.0,7.5,6.8,7.5, 8.2,6.8,6.0,6.0, 8.2,6.8,6.0,6.8, 8.2,6.8,6.8,6.8, 8.2,6.8,6.8,7.5],
]

# ---------------- Bedekkingsgraad ----------------
C_CTRL = [100,96.5,92.8,95.6, 100,99.5,99.2,77.7, 30.8,6.4,52.0,64.2, 64.2,39.8,2.8,1.5,
          1.3,25.7,90.5,77.0, 90.5,99.7,95.0,98.2, 100,99.5,80.9,62.3, 57.2,86.6,94.6,92.7,
          91.8,91.8,69.7,69.7, 91.1,61.6,61.6,85.4, 95.6,52.6,68.7,96.5, 96.9,89.9,94.6,67.0,
          82.8,89.2,32.7,28.5, 52.5,49.4,67.0,93.1, 56.0,41.3,82.0,64.2]
C_LO = [100,93.4,86.9,98.2, 99.4,96.5,91.5,53.5, 13.1,22.5,18.5,8.7, 21.8,11.6,4.1,1.3,
        4.2,25.0,66.1,85.0, 95.9,95.0,86.5,92.0, 82.4,71.9,66.8,52.0, 52.4,57.2,35.9,27.2,
        45.6,30.2,13.2,23.4, 29.8,20.9,9.4,23.5, 34.7,38.1,50.3,53.9, 55.2,48.5,47.8,27.6,
        33.4,29.5,23.5,24.6, 28.2,36.7,14.8,35.5, 43.5,41.2,28.2,37.1]
C_HI = [100,96.9,92.7,100, 100,99.5,96.3,85.8, 34.3,52.8,52.2,19.3, 59.7,34.9,29.8,10.5,
        39.8,76.4,90.2,96.8, 98.8,99.5,99.9,98.5, 95.0,96.0,90.6,87.9, 91.1,86.5,68.8,82.2,
        83.8,88.6,77.0,80.6, 77.7,76.1,84.1,85.4, 87.9,85.6,75.7,83.1, 85.4,87.9,88.6,90.8,
        92.0,89.1,78.6,86.9, 89.9,82.2,80.3,86.3, 86.7,74.5,80.9,81.6]
C_MED = [100,95.2,90.9,99.2, 100,97.6,94.2,77.3, 19.3,34.9,38.4,12.6, 25.7,29.3,8.4,3.9,
         24.6,53.3,79.6,95.0, 96.9,97.8,98.8,95.9, 93.1,83.4,81.9,81.9, 76.4,68.7,56.9,60.7,
         70.6,64.2,38.8,69.3, 57.2,61.6,45.3,42.0, 60.7,60.3,62.3,67.4, 75.1,75.4,77.4,63.5,
         70.9,50.0,49.2,56.9, 56.6,50.4,48.9,69.8, 76.7,58.9,60.1,64.2]

_all = {"T_CTRL": T_CTRL, "T_AVG": T_AVG, "D_CTRL": D_CTRL, "D_AVG": D_AVG, "P_CTRL": P_CTRL,
        "P_AVG": P_AVG, "W_CTRL": W_CTRL, "W_AVG": W_AVG, "G_CTRL": G_CTRL, "G_AVG": G_AVG,
        "C_CTRL": C_CTRL, "C_LO": C_LO, "C_HI": C_HI, "C_MED": C_MED}
for nm, grp in [("T", T_MEM), ("D", D_MEM), ("P", P_MEM), ("W", W_MEM), ("G", G_MEM)]:
    for k, m in enumerate(grp):
        _all[f"{nm}_MEM{k}"] = m
_bad = {k: len(v) for k, v in _all.items() if len(v) != 60}
assert not _bad, f"wrong lengths: {_bad}"

KINDS = ["Control", "Members", "Average"]
K_COLORS = ["#3333cc", "#339922", "#800000"]
K_DASH = [[1, 0], [1, 0], [3, 3]]
K_WIDTH = [3.5, 1, 3]
K_OPAC = [1, 0.35, 1]

GRID_COND = {"condition": {"test": "datum.value % 24 == 12", "value": "#666666"}, "value": "#dddddd"}


def x_axis_upper():
    return alt.Axis(
        values=list(range(0, 355, 6)), grid=True, gridColor=GRID_COND,
        tickOpacity={"condition": {"test": "datum.value % 24 == 12", "value": 1}, "value": 0},
        tickSize=5, tickColor="#444444",
        labelExpr="datum.value % 24 == 0 ? " + json.dumps(DAYS) + "[datum.value / 24] : ''",
        labelOverlap=False, labelFlush=False, labelBound=False, title=None)


def x_axis_cloud():
    return alt.Axis(
        values=list(range(12, 361, 6)), grid=True, gridColor=GRID_COND,
        tickSize=4, tickColor="#444444",
        labelExpr="datum.value % 24 == 6 ? " + json.dumps(DAYS) + "[(datum.value - 6) / 24] : ''",
        labelOverlap=False, labelFlush=False, labelBound=False, title=None)


def y_axis(vals):
    return alt.Axis(values=vals, grid=True, gridColor="#dddddd", title=None, labelOverlap=False)


def header_layers(title):
    t = alt.Chart(pd.DataFrame({"t": [title]})).mark_text(
        font=FONT, fontSize=13, fontWeight="bold", align="center", baseline="middle", color="black"
    ).encode(text="t:N", x=alt.value(TITLE_X), y=alt.value(-7))
    i1 = alt.Chart(pd.DataFrame({"t": [INFO1]})).mark_text(
        font=FONT, fontSize=9, align="right", baseline="middle", color="#999999"
    ).encode(text="t:N", x=alt.value(W), y=alt.value(-14.5))
    i2 = alt.Chart(pd.DataFrame({"t": [INFO2]})).mark_text(
        font=FONT, fontSize=9, align="right", baseline="middle", color="#999999"
    ).encode(text="t:N", x=alt.value(W), y=alt.value(-5.5))
    return [t, i1, i2]


def line_panel(title, ctrl, avg, members, ymin, ymax, ystep, zero_line=False):
    mem = pd.DataFrame([{"hour": h, "value": v, "member": f"m{k}", "kind": "Members"}
                        for k, m in enumerate(members) for h, v in zip(HOURS, m)])
    ctl = pd.DataFrame({"hour": HOURS, "value": ctrl, "kind": "Control"})
    av = pd.DataFrame({"hour": HOURS, "value": avg, "kind": "Average"})
    lg = alt.Legend(title=None, orient="none", legendX=0, legendY=-13, direction="horizontal",
                    symbolType="stroke", symbolSize=256, labelFont=FONT, labelFontSize=10,
                    labelOffset=4, columnPadding=24, padding=0, labelColor="black")
    enc = dict(
        color=alt.Color("kind:N", scale=alt.Scale(domain=KINDS, range=K_COLORS), legend=lg),
        strokeDash=alt.StrokeDash("kind:N", scale=alt.Scale(domain=KINDS, range=K_DASH), legend=lg),
        strokeWidth=alt.StrokeWidth("kind:N", scale=alt.Scale(type="ordinal", domain=KINDS, range=K_WIDTH), legend=lg),
        opacity=alt.Opacity("kind:N", scale=alt.Scale(type="ordinal", domain=KINDS, range=K_OPAC), legend=lg),
    )
    xa = x_axis_upper()
    ya = y_axis(list(range(ymin, ymax + 1, ystep)))
    xs = alt.Scale(domain=[0, 354], nice=False, zero=False)
    ys = alt.Scale(domain=[ymin, ymax], nice=False, zero=False)
    X = alt.X("hour:Q", scale=xs, axis=xa)
    Y = alt.Y("value:Q", scale=ys, axis=ya)
    layers = [alt.Chart(mem).mark_line(clip=True).encode(x=X, y=Y, detail="member:N", **enc)]
    if zero_line:
        layers.append(alt.Chart(pd.DataFrame({"value": [0]})).mark_rule(color="black", strokeWidth=2.5)
                      .encode(y=Y))
    layers.append(alt.Chart(av).mark_line(clip=True).encode(x=X, y=Y, **enc))
    layers.append(alt.Chart(ctl).mark_line(clip=True).encode(x=X, y=Y, **enc))
    layers += header_layers(title)
    return alt.layer(*layers).properties(width=W, height=H)


def cloud_panel():
    cl = pd.DataFrame({"hour": HOURS_CLOUD, "control": C_CTRL, "lo": C_LO, "hi": C_HI, "med": C_MED})
    xs = alt.Scale(domain=[9, 363], nice=False, zero=False)
    ys = alt.Scale(domain=[0, 100], nice=False, zero=False)
    xa = x_axis_cloud()
    ya = y_axis(list(range(0, 101, 10)))
    X = alt.X("hour:Q", scale=xs, axis=xa)
    bars = alt.Chart(cl).mark_bar(size=8, fill="#ffffb3", stroke="#bbbbbb", strokeWidth=1.5, clip=True).encode(
        x=X, y=alt.Y("lo:Q", scale=ys, axis=ya), y2="hi:Q")
    med = alt.Chart(cl).mark_tick(orient="horizontal", size=8, thickness=1.2, color="#222222", clip=True).encode(
        x=X, y=alt.Y("med:Q", scale=ys, axis=ya))
    ctrl = alt.Chart(cl).mark_line(color="#3333cc", strokeWidth=3, clip=True).encode(
        x=X, y=alt.Y("control:Q", scale=ys, axis=ya))
    leg = alt.Chart(pd.DataFrame({"kind": ["control", "50%", "median"]})).mark_square(
        size=64, clip=True, stroke="#333333", strokeWidth=1, opacity=1).encode(
        fill=alt.Fill("kind:N", scale=alt.Scale(domain=["control", "50%", "median"],
                                                 range=["#3333cc", "#ffffb3", "#000000"]),
                      legend=alt.Legend(title=None, orient="none", legendX=0, legendY=-13,
                                        direction="horizontal", symbolType="square", symbolSize=64,
                                        symbolStrokeColor="#333333", symbolStrokeWidth=1,
                                        labelFont=FONT, labelFontSize=10, labelOffset=4,
                                        columnPadding=24, padding=0, labelColor="black")),
        x=alt.value(-60), y=alt.value(-60))
    return alt.layer(bars, med, ctrl, leg, *header_layers("Bedekkingsgraad")).properties(width=W, height=H)


panels = [
    line_panel("Temperatuur 2m", T_CTRL, T_AVG, T_MEM, -30, 25, 5, zero_line=True),
    line_panel("Dauwpunt 2m", D_CTRL, D_AVG, D_MEM, -30, 20, 5, zero_line=True),
    line_panel("Neerslag", P_CTRL, P_AVG, P_MEM, 0, 14, 2),
    line_panel("10m wind", W_CTRL, W_AVG, W_MEM, 0, 14, 2),
    line_panel("10m windstoten", G_CTRL, G_AVG, G_MEM, 0, 20, 2),
    cloud_panel(),
]

chart = alt.vconcat(*panels, spacing=39, bounds="flush").resolve_scale(
    color="independent", strokeDash="independent", strokeWidth="independent",
    opacity="independent", fill="independent"
).properties(padding=0, background="white").configure_view(
    stroke="black", strokeWidth=1
).configure_axis(
    labelFont=FONT, labelFontSize=10, labelColor="black", tickColor="black", domainColor="black",
    gridWidth=1, tickSize=5, labelPadding=1, domainWidth=1
)

chart.save("out.html", embed_options={"renderer": "svg", "actions": False})
